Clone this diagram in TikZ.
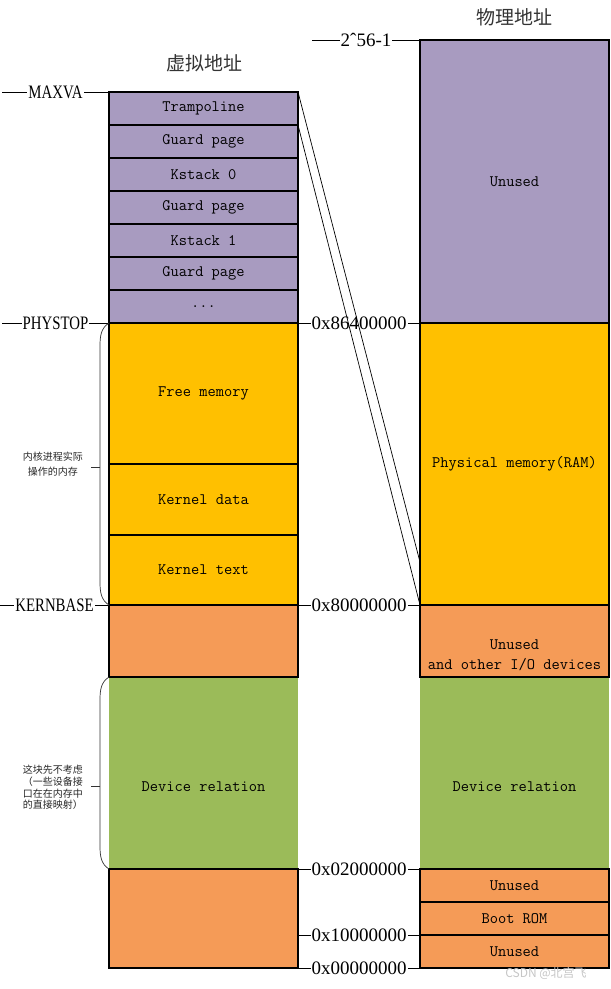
\documentclass[tikz,border=0pt]{standalone}
\usepackage{fontspec}
\setmainfont{Liberation Serif}
\newfontfamily\cjk{Noto Sans CJK SC}
\newfontfamily\labcaps[FakeStretch=0.78]{Liberation Serif}
\definecolor{purp}{HTML}{A89BC0}
\definecolor{gold}{HTML}{FFC000}
\definecolor{orng}{HTML}{F59B57}
\definecolor{grn}{HTML}{9BBB59}
\begin{document}
\begin{tikzpicture}[x=1pt,y=-1pt,
  box/.style={draw=black, line width=2.4pt, minimum width=189pt, inner sep=0pt, outer sep=0pt,
    font=\ttfamily\fontsize{16}{20}\selectfont, text=black},
  gbox/.style={fill=grn, draw=none, minimum width=189pt, inner sep=0pt, outer sep=0pt},
  btext/.style={font=\ttfamily\fontsize{16}{20}\selectfont, text=black, inner sep=0pt, align=center},
  lab/.style={fill=white, inner sep=1pt, font=\fontsize{19}{20}\selectfont},
  capl/.style={fill=white, inner sep=1pt, font=\labcaps\fontsize{19}{20}\selectfont},
  conn/.style={line width=0.8pt, black},
  slant/.style={line width=0.7pt, black},
  brace/.style={line width=0.7pt, black!80},
  title/.style={font=\cjk\fontsize{19}{20}\selectfont, text=black!80},
  ann/.style={font=\cjk\fontsize{10}{15}\selectfont, text=black!85, align=center, inner sep=0pt}
]
\useasboundingbox (0,0) rectangle (611,989);

% titles
\node[title] (vtitle) at (204,63) {虚拟地址};
\node[title] (ptitle) at (514,17) {物理地址};

% green regions (no border)
\node[gbox, minimum height=192pt] (lgreen) at (203.5,773) {};
\node[gbox, minimum height=192pt] (rgreen) at (514.5,773) {};

% virtual address column
\node[box, fill=purp, minimum height=33pt] (tramp) at (203.5,108.5) {Trampoline};
\node[box, fill=purp, minimum height=33pt] (g1) at (203.5,141.5) {Guard page};
\node[box, fill=purp, minimum height=33pt] (ks0) at (203.5,174.5) {Kstack 0};
\node[box, fill=purp, minimum height=33pt] (g2) at (203.5,207.5) {Guard page};
\node[box, fill=purp, minimum height=33pt] (ks1) at (203.5,240.5) {Kstack 1};
\node[box, fill=purp, minimum height=33pt] (g3) at (203.5,273.5) {Guard page};
\node[box, fill=purp, minimum height=33pt] (dots) at (203.5,306.5) {...};
\node[box, fill=gold, minimum height=141pt] (free) at (203.5,393.5) {Free memory};
\node[box, fill=gold, minimum height=71pt] (kdata) at (203.5,499.5) {Kernel data};
\node[box, fill=gold, minimum height=70pt] (ktext) at (203.5,570) {Kernel text};
\node[box, fill=orng, minimum height=72pt] (lor1) at (203.5,641) {};
\node[box, fill=orng, minimum height=99pt] (lor2) at (203.5,918.5) {};
\node[btext] (lgreenlbl) at (203.5,787) {Device relation};

% physical address column
\node[box, fill=purp, minimum height=283pt] (runused) at (514.5,181.5) {Unused};
\node[box, fill=gold, minimum height=282pt] (rram) at (514.5,464) {Physical memory(RAM)};
\node[box, fill=orng, minimum height=72pt] (rio) at (514.5,641) {};
\node[btext] (riolbl) at (514.5,655) {Unused\\and other I/O devices};
\node[btext] (rgreenlbl) at (514.5,787) {Device relation};
\node[box, fill=orng, minimum height=33pt] (ru2) at (514.5,885.5) {Unused};
\node[box, fill=orng, minimum height=33pt] (rboot) at (514.5,918.5) {Boot ROM};
\node[box, fill=orng, minimum height=33pt] (ru3) at (514.5,951.5) {Unused};

% left labels
\coordinate (mx) at (2,92);
\coordinate (ph) at (2,323);
\coordinate (kb) at (0,605);
\draw[conn] (mx) -- node[capl] (lmaxva) {MAXVA} (tramp.north west);
\draw[conn] (ph) -- node[capl] (lphystop) {PHYSTOP} (free.north west);
\draw[conn] (kb) -- node[capl] (lkernbase) {KERNBASE} (ktext.south west);

% middle labels
\coordinate (top) at (312,40);
\coordinate (l10) at (298,935);
\draw[conn] (top) -- node[lab] (ltop) {2ˆ56-1} (runused.north west);
\draw[conn] (dots.south east) -- node[lab] (l864) {0x86400000} (rram.north west);
\draw[conn] (ktext.south east) -- node[lab] (l800) {0x80000000} (rram.south west);
\draw[conn] (lgreen.south east) -- node[lab] (l020) {0x02000000} (ru2.north west);
\draw[conn] (l10) -- node[lab] (l100) {0x10000000} (ru3.north west);
\draw[conn] (lor2.south east) -- node[lab] (l000) {0x00000000} (ru3.south west);

% slanted mapping lines
\coordinate (p1) at (420,562);
\draw[slant] (tramp.north east) -- (p1);
\draw[slant] (tramp.south east) -- (rram.south west);

% brace 1
\coordinate (b1m) at (100,467);
\coordinate (b1t) at (91,467);
\draw[brace] (free.north west) .. controls (101,328) and (100,336) .. (100,346) -- (100,582) .. controls (100,592) and (101,600) .. (ktext.south west);
\draw[brace] (b1m) -- (b1t);
\node[ann] (ann1) at (53,464) {内核进程实际\\操作的内存};

% brace 2
\coordinate (b2m) at (100,786);
\coordinate (b2t) at (91,786);
\draw[brace] (lor1.south west) .. controls (101,682) and (100,690) .. (100,700) -- (100,846) .. controls (100,856) and (101,864) .. (lgreen.south west);
\draw[brace] (b2m) -- (b2t);
\node[ann, font=\cjk\fontsize{10}{11.7}\selectfont] (ann2) at (53,787.5) {这块先不考虑\\（一些设备接\\口在在内存中\\的直接映射）};

% watermark
\node[font=\cjk\fontsize{12}{12}\selectfont, text=gray!45, inner sep=0pt] (wm) at (546,973) {CSDN @北宫飞};
\end{tikzpicture}
\end{document}
